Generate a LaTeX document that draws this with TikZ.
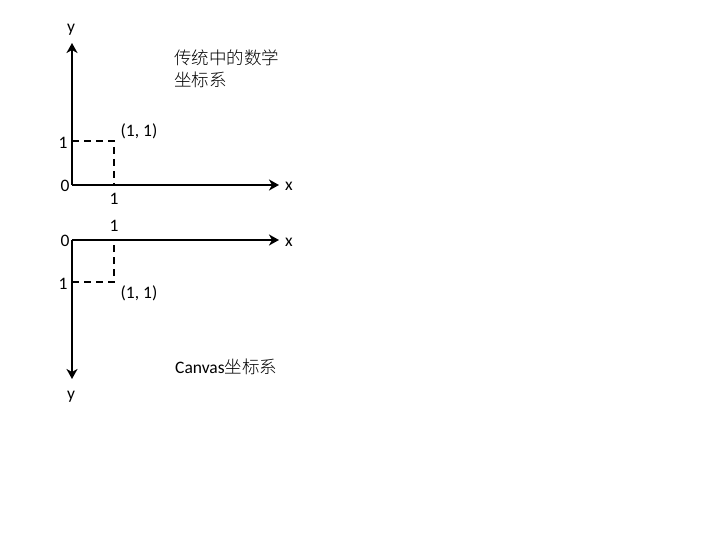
\documentclass[tikz,border=0pt]{standalone}
\usepackage{fontspec}
\setmainfont{Carlito}
\newfontfamily\cjk{Noto Sans CJK SC Light}
\usetikzlibrary{arrows.meta}
\begin{document}
\begin{tikzpicture}[x=1pt,y=-1pt,
  axis/.style={line width=2.6pt,-{Stealth[length=10pt,width=11pt,inset=3pt]}},
  guide/.style={line width=2.2pt,dash pattern=on 7pt off 5pt},
  lbl/.style={font=\fontsize{17.5}{20}\selectfont,inner sep=0pt},
  cn/.style={font=\cjk\fontsize{17.5}{22}\selectfont,inner sep=0pt,anchor=west}]
\useasboundingbox (0,0) rectangle (720,540);
% upper system
\coordinate (o1) at (72,185);
\coordinate (x1) at (279,185);
\coordinate (y1) at (72,43);
\coordinate (a1) at (72,141);
\coordinate (p1) at (114,141);
\coordinate (b1) at (114,185);
\draw[axis] (o1) -- (x1);
\draw[axis] (o1) -- (y1);
\draw[guide] (a1) -- (p1) -- (b1);
\node[lbl] (ly1) at (71,30) {y};
\node[lbl] (lx1) at (289,186) {x};
\node[lbl] (l01) at (65,186) {0};
\node[lbl] (l11) at (63,143) {1};
\node[lbl] (l12) at (114,199) {1};
\node[lbl] (lp1) at (139,131) {(1, 1)};
\node[cn] (t1) at (174,58) {传统中的数学};
\node[cn] (t2) at (174,80) {坐标系};
% lower system
\coordinate (o2) at (72,240);
\coordinate (x2) at (279,240);
\coordinate (y2) at (72,379);
\coordinate (a2) at (72,282);
\coordinate (p2) at (114,282);
\coordinate (b2) at (114,240);
\draw[axis] (o2) -- (x2);
\draw[axis] (o2) -- (y2);
\draw[guide] (a2) -- (p2) -- (b2);
\node[lbl] (ly2) at (71,397) {y};
\node[lbl] (lx2) at (289,242) {x};
\node[lbl] (l02) at (65,241) {0};
\node[lbl] (l21) at (114,226) {1};
\node[lbl] (l22) at (63,284) {1};
\node[lbl] (lp2) at (139,293) {(1, 1)};
\node[cn] (t3) at (175,367) {{\fontspec{Carlito}Canvas}坐标系};
\end{tikzpicture}
\end{document}
